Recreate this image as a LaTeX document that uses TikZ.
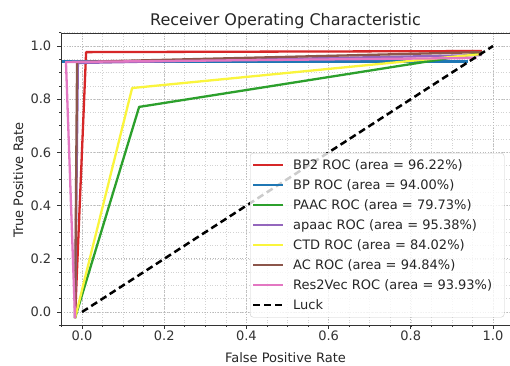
\documentclass[tikz,border=0pt]{standalone}
\usepackage{fontspec}
\setmainfont{DejaVu Sans}
\definecolor{cRed}{RGB}{214,39,40}
\definecolor{cBlue}{RGB}{31,119,180}
\definecolor{cGreen}{RGB}{44,160,44}
\definecolor{cPurple}{RGB}{148,103,189}
\definecolor{cYellow}{RGB}{250,245,60}
\definecolor{cBrown}{RGB}{140,86,75}
\definecolor{cPink}{RGB}{227,119,194}
\begin{document}
\begin{tikzpicture}[x=1pt,y=1pt,
  curve/.style={line width=2.3pt, line join=round},
  luckline/.style={line width=2.5pt, dash pattern=on 7pt off 4pt, black},
  minorgrid/.style={gray!35, line width=0.6pt, dotted},
  majorgrid/.style={gray!55, line width=0.7pt, dotted},
  spine/.style={black!80, line width=0.9pt},
  ticklab/.style={font=\fontsize{13}{15}\selectfont, text=black!80, inner sep=0pt},
  legtext/.style={font=\fontsize{13}{15}\selectfont, text=black!85, inner sep=0pt, anchor=base west},
  axlab/.style={font=\fontsize{13}{15}\selectfont, text=black!85, inner sep=0pt, anchor=base}]
\useasboundingbox (0,0) rectangle (510,365);
\clip (0,0) rectangle (510,365);
\fill[white] (0,0) rectangle (510,365);

% data axes: x and y from -0.05 to 1.05
\begin{scope}[shift={(82,53)}, x=411pt, y=266pt]
  % grid
  \foreach \i in {-1,...,21} {
    \draw[minorgrid] ({\i*0.05},-0.05) -- ({\i*0.05},1.05);
    \draw[minorgrid] (-0.05,{\i*0.05}) -- (1.05,{\i*0.05});
  }
  \foreach \v in {0,0.2,0.4,0.6,0.8,1.0} {
    \draw[majorgrid] (\v,-0.05) -- (\v,1.05);
    \draw[majorgrid] (-0.05,\v) -- (1.05,\v);
  }

  % ROC curves
  \coordinate (s) at (-0.017,-0.023);
  \draw[curve, cRed]    (s) -- (0.010,0.977) -- (0.973,0.981);
  \draw[curve, cBlue]   (-0.05,0.942) -- (0.940,0.942);
  \draw[curve, cGreen]  (s) -- (0.139,0.771) -- (0.973,0.974);
  \draw[curve, cPurple] (s) -- (-0.010,0.936) -- (0.973,0.966);
  \draw[curve, cYellow] (s) -- (0.122,0.842) -- (0.973,0.970);
  \draw[curve, cBrown]  (s) -- (-0.012,0.940) -- (0.973,0.977);
  \draw[curve, cPink]   (s) -- (-0.039,0.940) -- (0.960,0.955);
  \coordinate (o) at (0,0);
  \coordinate (e) at (1,1);
  \draw[luckline] (o) -- (e);

  % ticks
  \foreach \i in {-1,...,21} {
    \draw[spine, line width=0.6pt] ({\i*0.05},-0.05) -- ++(0,-2pt);
    \draw[spine, line width=0.6pt] (-0.05,{\i*0.05}) -- ++(-2pt,0);
  }
  \foreach \v/\t in {0/0.0,0.2/0.2,0.4/0.4,0.6/0.6,0.8/0.8,1.0/1.0} {
    \draw[spine] (\v,-0.05) -- ++(0,-4pt);
    \draw[spine] (-0.05,\v) -- ++(-4pt,0);
    \node[ticklab, anchor=north] (xt\t) at ([yshift=-5pt]\v,-0.05) {\t};
    \node[ticklab, anchor=east] (yt\t) at ([xshift=-10pt]-0.05,\v) {\t};
  }
\end{scope}

% legend
\node[draw=gray!40, fill=white, fill opacity=0.8, rounded corners=3pt,
      minimum width=254pt, minimum height=164pt, inner sep=0pt, anchor=north west] (legend) at (250,212) {};
\foreach \c/\t/\y in {cRed/BP2 ROC (area = 96.22\%)/200,
                      cBlue/BP ROC (area = 94.00\%)/180,
                      cGreen/PAAC ROC (area = 79.73\%)/160,
                      cPurple/apaac ROC (area = 95.38\%)/140,
                      cYellow/CTD ROC (area = 84.02\%)/120,
                      cBrown/AC ROC (area = 94.84\%)/100,
                      cPink/Res2Vec ROC (area = 93.93\%)/80} {
  \coordinate (h1-\y) at (253,\y);
  \coordinate (h2-\y) at (283,\y);
  \draw[curve, \c] (h1-\y) -- (h2-\y);
  \node[legtext] (lt-\y) at (293,\y-4.7) {\t};
}
\coordinate (hl1) at (253,60);
\coordinate (hl2) at (283,60);
\draw[luckline] (hl1) -- (hl2);
\node[legtext] (lt-luck) at (293,55.3) {Luck};

% spines
\draw[spine] (510,332) -- (61.45,332) -- (61.45,39.7) -- (510,39.7);

% labels
\node[font=\fontsize{16}{19}\selectfont, text=black!85, inner sep=0pt, anchor=base] (title) at (285.5,339) {Receiver Operating Characteristic};
\node[axlab] (xlabel) at (285.5,2.5) {False Positive Rate};
\node[axlab, rotate=90] (ylabel) at (23,185) {True Positive Rate};
\end{tikzpicture}
\end{document}
